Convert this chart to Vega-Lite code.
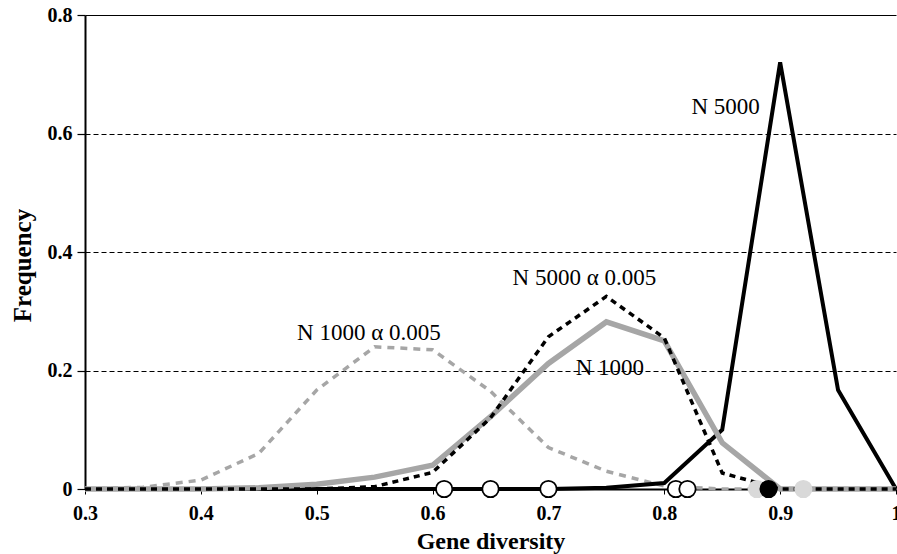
{
  "$schema": "https://vega.github.io/schema/vega-lite/v6.json",
  "width": 811,
  "height": 474,
  "autosize": {"type": "none"},
  "padding": {"left": 85, "top": 15, "right": 1, "bottom": 65},
  "background": "white",
  "config": {
    "view": {"stroke": null},
    "font": "Liberation Serif"
  },
  "datasets": {
    "curves": [
      {"series": "N 5000", "x": 0.3, "y": 0}, {"series": "N 5000", "x": 0.35, "y": 0}, {"series": "N 5000", "x": 0.4, "y": 0},
      {"series": "N 5000", "x": 0.45, "y": 0}, {"series": "N 5000", "x": 0.5, "y": 0}, {"series": "N 5000", "x": 0.55, "y": 0},
      {"series": "N 5000", "x": 0.6, "y": 0}, {"series": "N 5000", "x": 0.65, "y": 0}, {"series": "N 5000", "x": 0.7, "y": 0},
      {"series": "N 5000", "x": 0.75, "y": 0.002}, {"series": "N 5000", "x": 0.8, "y": 0.01}, {"series": "N 5000", "x": 0.85, "y": 0.1},
      {"series": "N 5000", "x": 0.9, "y": 0.72}, {"series": "N 5000", "x": 0.95, "y": 0.167}, {"series": "N 5000", "x": 1.0, "y": 0},

      {"series": "N 1000", "x": 0.3, "y": 0}, {"series": "N 1000", "x": 0.35, "y": 0}, {"series": "N 1000", "x": 0.4, "y": 0},
      {"series": "N 1000", "x": 0.45, "y": 0.002}, {"series": "N 1000", "x": 0.5, "y": 0.008}, {"series": "N 1000", "x": 0.55, "y": 0.02},
      {"series": "N 1000", "x": 0.6, "y": 0.04}, {"series": "N 1000", "x": 0.65, "y": 0.122}, {"series": "N 1000", "x": 0.7, "y": 0.212},
      {"series": "N 1000", "x": 0.75, "y": 0.282}, {"series": "N 1000", "x": 0.8, "y": 0.25}, {"series": "N 1000", "x": 0.85, "y": 0.078},
      {"series": "N 1000", "x": 0.9, "y": 0}, {"series": "N 1000", "x": 0.95, "y": 0}, {"series": "N 1000", "x": 1.0, "y": 0},

      {"series": "N 5000 a", "x": 0.3, "y": 0}, {"series": "N 5000 a", "x": 0.35, "y": 0}, {"series": "N 5000 a", "x": 0.4, "y": 0},
      {"series": "N 5000 a", "x": 0.45, "y": 0}, {"series": "N 5000 a", "x": 0.5, "y": 0}, {"series": "N 5000 a", "x": 0.55, "y": 0.004},
      {"series": "N 5000 a", "x": 0.6, "y": 0.028}, {"series": "N 5000 a", "x": 0.65, "y": 0.12}, {"series": "N 5000 a", "x": 0.7, "y": 0.257},
      {"series": "N 5000 a", "x": 0.75, "y": 0.325}, {"series": "N 5000 a", "x": 0.8, "y": 0.255}, {"series": "N 5000 a", "x": 0.85, "y": 0.027},
      {"series": "N 5000 a", "x": 0.9, "y": 0}, {"series": "N 5000 a", "x": 0.95, "y": 0}, {"series": "N 5000 a", "x": 1.0, "y": 0},

      {"series": "N 1000 a", "x": 0.3, "y": 0}, {"series": "N 1000 a", "x": 0.35, "y": 0.003}, {"series": "N 1000 a", "x": 0.4, "y": 0.015},
      {"series": "N 1000 a", "x": 0.45, "y": 0.06}, {"series": "N 1000 a", "x": 0.5, "y": 0.167}, {"series": "N 1000 a", "x": 0.55, "y": 0.24},
      {"series": "N 1000 a", "x": 0.6, "y": 0.235}, {"series": "N 1000 a", "x": 0.65, "y": 0.165}, {"series": "N 1000 a", "x": 0.7, "y": 0.07},
      {"series": "N 1000 a", "x": 0.75, "y": 0.03}, {"series": "N 1000 a", "x": 0.8, "y": 0.005}, {"series": "N 1000 a", "x": 0.85, "y": 0},
      {"series": "N 1000 a", "x": 0.9, "y": 0}, {"series": "N 1000 a", "x": 0.95, "y": 0}, {"series": "N 1000 a", "x": 1.0, "y": 0}
    ],
    "markers": [
      {"x": 0.61, "y": 0, "kind": "open"},
      {"x": 0.65, "y": 0, "kind": "open"},
      {"x": 0.70, "y": 0, "kind": "open"},
      {"x": 0.81, "y": 0, "kind": "open"},
      {"x": 0.82, "y": 0, "kind": "open"},
      {"x": 0.88, "y": 0, "kind": "grey"},
      {"x": 0.92, "y": 0, "kind": "grey"},
      {"x": 0.89, "y": 0, "kind": "filled"}
    ],
    "labels": [
      {"text": "N 5000", "x": 0.853, "y": 0.645},
      {"text": "N 5000 α 0.005", "x": 0.731, "y": 0.356},
      {"text": "N 1000 α 0.005", "x": 0.545, "y": 0.263},
      {"text": "N 1000", "x": 0.753, "y": 0.204}
    ]
  },
  "layer": [
    {
      "data": {"name": "curves"},
      "transform": [{"filter": "datum.series === 'N 1000 a'"}],
      "mark": {"type": "line", "color": "#a6a6a6", "strokeWidth": 3.5, "strokeDash": [7, 6]},
      "encoding": {
        "x": {
          "field": "x", "type": "quantitative",
          "scale": {"domain": [0.3, 1.0], "nice": false, "zero": false},
          "axis": {
            "values": [0.3, 0.4, 0.5, 0.6, 0.7, 0.8, 0.9, 1.0],
            "format": ".1~f",
            "title": "Gene diversity",
            "grid": false,
            "domainColor": "black",
            "domainWidth": 2,
            "tickColor": "black",
            "tickWidth": 1,
            "tickSize": 5,
            "labelPadding": 9,
            "labelFont": "Liberation Serif",
            "labelFontWeight": "bold",
            "labelFontSize": 20,
            "labelColor": "black",
            "labelOverlap": false,
            "labelFlush": false,
            "titleFont": "Liberation Serif",
            "titleFontWeight": "bold",
            "titleFontSize": 24,
            "titleColor": "black",
            "titleY": 59,
            "titleBaseline": "alphabetic"
          }
        },
        "y": {
          "field": "y", "type": "quantitative",
          "scale": {"domain": [0, 0.8], "nice": false},
          "axis": {
            "values": [0, 0.2, 0.4, 0.6, 0.8],
            "format": ".1~f",
            "title": "Frequency",
            "grid": true,
            "gridColor": "black",
            "gridWidth": 1.2,
            "gridDash": {"condition": {"test": "datum.value >= 0.79", "value": []}, "value": [5, 3]},
            "gridOpacity": {"condition": {"test": "datum.value === 0", "value": 0}, "value": 1},
            "domainColor": "black",
            "domainWidth": 2,
            "tickColor": "black",
            "tickWidth": 1.2,
            "tickSize": 8,
            "labelPadding": 5,
            "labelFont": "Liberation Serif",
            "labelFontWeight": "bold",
            "labelFontSize": 20,
            "labelColor": "black",
            "titleFont": "Liberation Serif",
            "titleFontWeight": "bold",
            "titleFontSize": 25,
            "titleColor": "black",
            "titleX": -63,
            "titleY": 250,
            "titleAngle": -90,
            "titleAlign": "center",
            "titleBaseline": "middle"
          }
        }
      }
    },
    {
      "data": {"name": "curves"},
      "transform": [{"filter": "datum.series === 'N 5000'"}],
      "mark": {"type": "line", "color": "black", "strokeWidth": 4},
      "encoding": {
        "x": {"field": "x", "type": "quantitative"},
        "y": {"field": "y", "type": "quantitative"}
      }
    },
    {
      "data": {"name": "curves"},
      "transform": [{"filter": "datum.series === 'N 1000'"}],
      "mark": {"type": "line", "color": "#a6a6a6", "strokeWidth": 5.5},
      "encoding": {
        "x": {"field": "x", "type": "quantitative"},
        "y": {"field": "y", "type": "quantitative"}
      }
    },
    {
      "data": {"name": "curves"},
      "transform": [{"filter": "datum.series === 'N 5000 a'"}],
      "mark": {"type": "line", "color": "black", "strokeWidth": 3.5, "strokeDash": [6, 5]},
      "encoding": {
        "x": {"field": "x", "type": "quantitative"},
        "y": {"field": "y", "type": "quantitative"}
      }
    },
    {
      "data": {"name": "markers"},
      "mark": {"type": "point", "shape": "circle", "filled": true, "size": 270, "opacity": 1},
      "encoding": {
        "x": {"field": "x", "type": "quantitative"},
        "y": {"field": "y", "type": "quantitative"},
        "fill": {
          "field": "kind", "type": "nominal",
          "scale": {"domain": ["open", "grey", "filled"], "range": ["white", "#d9d9d9", "black"]},
          "legend": null
        },
        "stroke": {
          "field": "kind", "type": "nominal",
          "scale": {"domain": ["open", "grey", "filled"], "range": ["black", "#d9d9d9", "black"]},
          "legend": null
        },
        "strokeWidth": {"value": 1.8}
      }
    },
    {
      "data": {"name": "labels"},
      "mark": {"type": "text", "font": "Liberation Serif", "fontSize": 23, "color": "black", "align": "center", "baseline": "middle"},
      "encoding": {
        "x": {"field": "x", "type": "quantitative"},
        "y": {"field": "y", "type": "quantitative"},
        "text": {"field": "text", "type": "nominal"}
      }
    }
  ]
}
